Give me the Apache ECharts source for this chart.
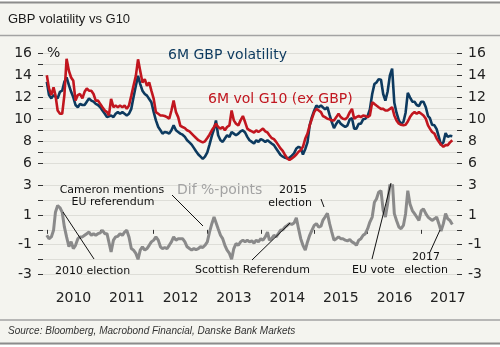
<!DOCTYPE html>
<html><head><meta charset="utf-8">
<script src="https://cdn.jsdelivr.net/npm/echarts@6/dist/echarts.min.js"></script>
<style>html,body{margin:0;padding:0;background:#fff}#c{width:500px;height:347px}</style>
</head><body><div id="c"></div>
<script>
// Semi-monthly observations (1st and 16th of each month) starting 1 Jan 2010
const startYear = 2010;
const gbpVol = [
13.4,12.2,11.9,12.2,12.3,11.9,12.5,12.6,13.4,13.8,13.1,12.5,12.0,11.3,11.1,11.4,11.3,11.3,11.6,11.9,
11.7,11.6,11.4,11.3,11.1,10.8,10.5,10.2,10.05,10.35,10.2,10.5,10.65,10.5,10.65,10.5,10.35,10.5,10.95,12.0,
13.05,13.95,13.2,12.6,12.3,12.15,11.85,11.55,10.65,9.9,9.3,9.0,8.7,8.85,8.8,8.7,9.0,9.45,9.0,8.85,
8.7,8.6,8.4,8.1,7.9,7.7,7.4,7.1,6.8,6.6,6.4,6.6,7.0,7.7,8.5,9.1,9.9,8.55,8.1,7.95,
8.25,8.55,8.4,8.85,8.7,8.55,8.7,8.9,9.0,8.8,8.4,8.1,7.95,7.8,8.1,7.95,8.2,8.1,7.95,8.1,
7.95,7.8,7.65,7.35,7.05,6.75,6.6,6.5,6.45,6.5,6.7,6.9,7.35,7.5,7.4,6.8,7.3,7.9,9.45,10.2,
10.8,11.25,11.1,11.25,11.1,10.9,11.1,10.4,9.75,9.2,9.6,9.9,9.6,9.45,9.3,9.45,10.0,10.1,9.15,9.15,
9.6,9.6,10.0,10.05,10.3,10.9,12.3,13.2,13.35,13.65,13.6,12.3,11.7,12.5,14.0,14.6,11.5,10.6,9.9,9.6,
9.75,10.6,12.4,12.0,11.6,11.6,11.3,11.2,11.6,11.6,11.1,10.3,10.1,9.5,9.45,9.1,8.4,7.65,7.9,8.75,
8.4,8.5,8.45
];
const g10Vol = [
14.0,12.8,12.2,12.9,12.2,10.8,10.5,10.5,12.2,15.5,14.4,13.8,13.5,11.7,12.2,12.3,11.9,12.5,12.8,12.6,
12.6,12.3,11.7,11.7,11.4,11.1,10.8,10.65,10.35,11.85,11.1,11.25,11.1,11.25,11.1,11.25,10.95,11.25,12.15,13.05,
13.95,15.45,14.4,13.35,13.65,13.05,13.35,12.6,11.85,10.65,10.5,10.35,10.35,10.3,10.2,10.05,10.8,11.7,10.65,10.2,
9.4,9.3,9.2,9.0,8.9,8.7,8.5,8.3,8.1,8.0,7.9,8.0,8.3,8.6,9.0,9.3,9.6,9.3,9.15,9.3,
9.0,9.3,9.45,10.8,9.9,9.6,9.45,9.9,10.3,9.75,9.15,9.0,8.9,8.8,9.0,8.85,9.0,9.15,8.9,8.8,
8.55,8.3,8.2,7.95,7.65,7.35,7.1,6.75,6.45,6.3,6.45,6.6,6.8,7.05,7.2,7.5,8.25,8.7,9.45,10.05,
10.65,10.95,10.8,10.65,10.3,10.2,10.05,10.0,9.9,9.9,10.2,10.5,10.2,10.05,10.0,10.2,10.65,10.95,10.05,10.2,
10.3,10.2,10.35,10.3,10.2,10.35,11.55,11.4,11.25,11.1,10.95,10.95,10.8,10.8,10.95,11.1,10.35,9.9,9.6,9.5,
9.45,9.5,9.8,10.2,10.5,10.65,10.5,10.65,10.5,10.35,10.05,9.45,9.15,8.85,8.7,8.25,7.95,7.7,7.5,7.65,
7.65,7.9,8.1
];
const diffPts = [
-0.37,-0.6,-0.48,-0.03,1.2,1.65,1.5,1.2,0.2,-0.48,-1.15,-0.8,-1.27,-1.05,-0.6,-0.48,-0.48,-0.37,-0.26,-0.15,
-0.37,-0.26,-0.37,-0.26,-0.2,-0.03,-0.26,-0.26,-0.37,-1.5,-0.7,-0.48,-0.44,-0.26,-0.37,-0.15,-0.03,-0.48,-1.27,-1.38,
-1.6,-2.0,-1.38,-1.15,-1.38,-1.27,-1.05,-0.82,-0.7,-0.48,-0.7,-1.15,-1.27,-1.2,-1.27,-1.05,-0.82,-0.48,-0.7,-0.6,
-0.6,-0.6,-0.82,-1.15,-1.27,-1.38,-1.27,-1.34,-1.27,-1.15,-1.2,-1.05,-0.82,-0.15,0.42,0.87,0.75,0.08,-0.37,-0.6,
-1.05,-1.38,-1.6,-2.0,-1.27,-0.93,-1.05,-0.82,-0.7,-0.82,-0.7,-0.82,-0.75,-0.9,-0.7,-0.82,-0.6,-0.7,-0.48,-0.15,
-0.7,-0.6,-0.37,-0.48,-0.26,-0.03,0.01,0.19,0.3,0.42,0.37,0.46,0.82,0.08,-0.6,-1.05,-1.38,-0.82,-0.37,-0.03,
0.3,0.42,0.19,0.25,0.64,0.87,1.13,0.42,-0.15,-0.7,-0.6,-0.48,-0.6,-0.6,-0.7,-0.75,-0.66,-0.82,-0.9,-1.05,
-0.7,-0.6,-0.37,-0.26,0.08,0.53,0.87,1.88,2.1,2.55,2.66,1.31,0.87,1.76,3.1,3.56,1.1,0.64,0.19,0.08,
0.3,1.1,2.66,1.76,1.31,1.1,0.87,0.64,1.31,1.43,1.1,0.87,0.98,0.64,0.75,0.87,0.42,-0.08,0.42,1.1,
0.75,0.64,0.37
];
const yearLabels = ['2010','2011','2012','2013','2014','2015','2016','2017'];
const topLabelValues = [6, 8, 10, 12, 14, 16];
const bottomLabelValues = [-3, -1, 1, 3];

function obsDate(k) {
  const y = startYear + Math.floor(k / 24);
  const m = Math.floor((k % 24) / 2);
  const d = (k % 2) ? 16 : 1;
  return Date.UTC(y, m, d);
}
const pairs = arr => arr.map((v, k) => [obsDate(k), v]);

const xMin = Date.UTC(2009, 11, 6);
const xMax = Date.UTC(2017, 8, 2);
const yearTicks = yearLabels.map(y => Date.UTC(+y, 0, 1));
const yearMids = yearLabels.map(y => Date.UTC(+y, 6, 2));

const AX_FONT = 'DejaVu Sans';
function yAxis(grid, pos, min, max, labels, split) {
  return {
    type: 'value', gridIndex: grid, position: pos, min: min, max: max, interval: 1,
    axisLine: { show: false },
    axisTick: { show: true, length: 5, lineStyle: { color: '#333', width: 1 } },
    axisLabel: { customValues: labels, margin: 11, fontFamily: AX_FONT, fontSize: 14, color: '#222' },
    splitLine: { show: split, lineStyle: { color: '#deded8', width: 1 } }
  };
}

function txt(x, y, s, opt) {
  opt = opt || {};
  const align = opt.align || 'left';
  return {
    type: 'text', x: x, y: y, z: 100,
    style: {
      text: s, fill: opt.color || '#111',
      font: (opt.style || 'normal') + ' ' + (opt.weight || 'normal') + ' ' + (opt.size || 11) + 'px ' + (opt.family || 'DejaVu Sans'),
      align: align, verticalAlign: 'middle', textAlign: align, textVerticalAlign: 'middle'
    }
  };
}
function ln(x1, y1, x2, y2, color, w) {
  return { type: 'line', z: 100, shape: { x1: x1, y1: y1, x2: x2, y2: y2 }, style: { stroke: color || '#111', lineWidth: w || 1 } };
}

const chart = echarts.init(document.getElementById('c'), null, { renderer: 'canvas' });
chart.setOption({
  backgroundColor: '#f4f4ef',
  animation: false,
  grid: [
    { left: 43, right: 43, top: 53.3, height: 110 },
    { left: 43, right: 43, top: 185.7, height: 88.3 }
  ],
  xAxis: [
    { type: 'value', gridIndex: 0, min: xMin, max: xMax, show: false, splitLine: { show: false } },
    {
      type: 'value', gridIndex: 1, min: xMin, max: xMax, offset: 9,
      axisLine: { show: false },
      axisTick: { show: true, length: 4, customValues: yearTicks, lineStyle: { color: '#333' } },
      axisLabel: { customValues: yearMids, formatter: v => String(new Date(v).getUTCFullYear()), fontFamily: AX_FONT, fontSize: 14, color: '#222', margin: 8 },
      splitLine: { show: false }
    }
  ],
  yAxis: [
    yAxis(0, 'left', 6, 16, topLabelValues, true),
    yAxis(0, 'right', 6, 16, topLabelValues, false),
    yAxis(1, 'left', -3, 3, bottomLabelValues, true),
    yAxis(1, 'right', -3, 3, bottomLabelValues, false)
  ],
  series: [
    { name: '6M GBP volatility', type: 'line', xAxisIndex: 0, yAxisIndex: 0, data: pairs(gbpVol), showSymbol: false, lineStyle: { color: '#0d3a5f', width: 2.6 }, z: 3 },
    { name: '6M vol G10 (ex GBP)', type: 'line', xAxisIndex: 0, yAxisIndex: 0, data: pairs(g10Vol), showSymbol: false, lineStyle: { color: '#c1161f', width: 2.6 }, z: 4 },
    { name: 'Dif %-points', type: 'line', xAxisIndex: 1, yAxisIndex: 2, data: pairs(diffPts), showSymbol: false, lineStyle: { color: '#8a8a8a', width: 3 }, z: 3 }
  ],
  graphic: [
    { type: 'rect', z: 100, shape: { x: 0, y: 0, width: 500, height: 1.6 }, style: { fill: '#fff' } },
    { type: 'rect', z: 100, shape: { x: 0, y: 344.8, width: 500, height: 3 }, style: { fill: '#fff' } },
    ln(0, 2.6, 500, 2.6, '#8c8c8c', 2),
    ln(0, 35.5, 500, 35.5, '#a3a3a3', 1.5),
    ln(0, 320, 500, 320, '#a3a3a3', 1.5),
    ln(0, 343.6, 500, 343.6, '#8c8c8c', 2),
    txt(8, 19, 'GBP volatility vs G10', { size: 13, family: 'Liberation Sans', color: '#1a1a1a' }),
    txt(8, 331, 'Source: Bloomberg, Macrobond Financial, Danske Bank Markets', { size: 10, family: 'Liberation Sans', style: 'italic', color: '#333' }),
    txt(47, 53, '%', { size: 14, color: '#222' }),
    txt(168, 55, '6M GBP volatility', { size: 14, color: '#0d3a5f' }),
    txt(208, 99, '6M vol G10 (ex GBP)', { size: 14, color: '#c1161f' }),
    txt(177, 190, 'Dif %-points', { size: 14, color: '#a3a3a3' }),
    txt(112, 190, 'Cameron mentions', { align: 'center' }),
    txt(113, 202, 'EU referendum', { align: 'center' }),
    ln(172, 195, 203, 226),
    txt(55, 271, '2010 election'),
    ln(63, 212, 94, 259),
    txt(195, 270, 'Scottish Referendum'),
    ln(252, 260, 290, 223),
    txt(293, 190, '2015', { align: 'center' }),
    txt(290, 203, 'election', { align: 'center' }),
    ln(321, 199, 324, 207),
    txt(352, 270, 'EU vote'),
    ln(372, 259, 391, 183),
    txt(426, 257, '2017', { align: 'center' }),
    txt(426, 270, 'election', { align: 'center' }),
    ln(430, 252, 440, 230)
  ]
});
</script></body></html>
